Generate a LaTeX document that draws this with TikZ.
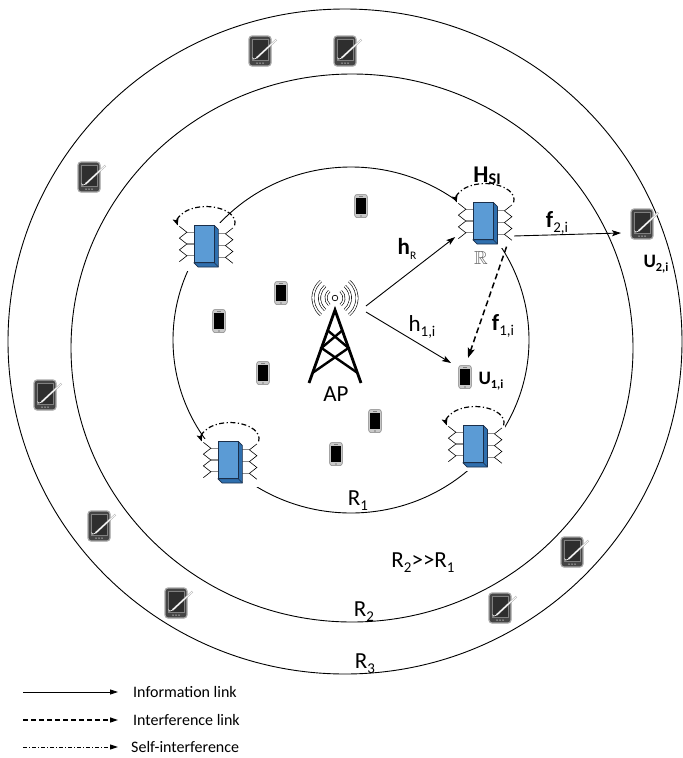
\documentclass[tikz,border=0pt]{standalone}
\usepackage{fontspec}
\setmainfont{Carlito}
\usepackage{amssymb}
\usepackage{graphicx}
\usetikzlibrary{arrows.meta,calc}

\definecolor{boxfront}{HTML}{5B9BD5}
\definecolor{boxside}{HTML}{2F6FAE}
\definecolor{boxedge}{HTML}{1B2F4A}
\definecolor{stubgray}{HTML}{8C8C8C}
\definecolor{tabbody}{HTML}{454545}
\definecolor{tabscreen}{HTML}{2E2E2E}
\definecolor{tabrim}{HTML}{A8A8A8}
\definecolor{phonebody}{HTML}{C8C8C8}
\definecolor{phoneedge}{HTML}{7F7F7F}

% lowered, scaled subscript in the running text font
\newcommand{\sbs}[2][0.65]{\raisebox{-0.22em}{\scalebox{#1}{#2}}}

\tikzset{
  ring/.style={draw=black, line width=0.9pt},
  infolink/.style={draw=black, line width=0.9pt, -{Stealth[length=9pt,width=6pt,inset=2pt]}},
  intflink/.style={draw=black, line width=1.5pt, dash pattern=on 6pt off 3.5pt, -{Stealth[length=10pt,width=7pt,inset=2pt]}},
  selfloop/.style={draw=black, line width=1.2pt, dash pattern=on 5pt off 2.5pt on 1.2pt off 2.5pt, -{Stealth[length=7pt,width=6pt,inset=1.5pt]}},
  lbl/.style={font=\fontsize{23}{23}\selectfont, inner sep=0pt},
  blbl/.style={font=\fontsize{24}{24}\selectfont\bfseries, inner sep=0pt},
  ulbl/.style={font=\fontsize{19}{19}\selectfont\bfseries, inner sep=0pt},
  legtxt/.style={font=\fontsize{16}{16}\selectfont, anchor=west, inner sep=0pt},
  legline/.style={draw=black, -{Triangle[length=8pt,width=5pt]}},
  relaysize/.style={scale=1.07},
  % full-duplex relay: box with two antenna arrays and a self-interference loop
  relay/.pic={
    \fill[white] (-24,-20) rectangle (30,25);
    \foreach \yy in {-11,0,11}{
      \draw[stubgray, line width=1.3pt] (-9.5,\yy) -- (-16,\yy);
      \draw[stubgray, line width=1.3pt] (13.5,\yy+1.5) -- (20,\yy+1.5);
    }
    \draw[line width=0.6pt, line join=miter] (-23,-16.5) -- (-16,-11) -- (-23,-5.5) -- (-16,0) -- (-23,5.5) -- (-16,11) -- (-23,16.5);
    \draw[line width=0.6pt, line join=miter] (27,-15) -- (20,-9.5) -- (27,-4) -- (20,1.5) -- (27,7) -- (20,12.5) -- (27,18);
    \filldraw[fill=boxside, draw=boxedge, line width=0.6pt, line join=round] (9.5,-17.5) -- (13.5,-13.5) -- (13.5,21.5) -- (-5.5,21.5) -- (-9.5,17.5) -- (9.5,17.5) -- cycle;
    \filldraw[fill=boxfront, draw=boxedge, line width=0.6pt] (-9.5,-17.5) rectangle (9.5,17.5);
    \draw[boxedge, line width=0.6pt] (9.5,17.5) -- (13.5,21.5);
    \draw[selfloop] (28.6,-17.4) arc[start angle=10, end angle=-190, x radius=27, y radius=15];
    \coordinate (-in) at (-26,15);
    \coordinate (-out) at (29,14);
    \coordinate (-down) at (22,24);
  },
  % small handset
  phone/.pic={
    \filldraw[fill=phonebody, draw=phoneedge, line width=0.5pt, rounded corners=2.2pt] (-6.3,-11.5) rectangle (6.3,11.5);
    \fill[black] (-4.9,-8.3) rectangle (4.9,8.3);
    \draw[phoneedge, line width=0.6pt] (-1.6,-10) -- (1.6,-10);
    \fill[phoneedge] (0,10) circle (0.9);
    \coordinate (-nw) at (-14,-14);
    \coordinate (-n) at (3,-19);
  },
  % tablet with stylus
  tablet/.pic={
    \filldraw[fill=tabbody, draw=tabrim, line width=1.2pt, rounded corners=3pt] (-11,-15) rectangle (11,15);
    \filldraw[fill=tabscreen, draw=gray, line width=0.4pt] (-8.3,-12) rectangle (8.3,9.2);
    \draw[draw=gray!65, double=white, double distance=0.9pt, line width=0.5pt] (16.5,-11.5) -- (-3.5,7);
    \draw[white, line width=0.6pt] (-3.5,7) .. controls (-5.5,9) and (-7.5,8.5) .. (-7.5,6.5);
    \foreach \xx in {-3,0,3} \fill[white!75!black] (\xx,12.2) circle (0.75);
    \coordinate (-w) at (-21,9);
  },
}

\begin{document}
\begin{tikzpicture}[x=1pt,y=-1pt]
\useasboundingbox (0,0) rectangle (683,758);
\fill[white] (0,0) rectangle (683,758);

% coverage rings
\draw[ring] (345,341.5) ellipse [x radius=337, y radius=332.5];
\draw[ring] (352,348) ellipse [x radius=281, y radius=274];
\draw[ring] (351,340) ellipse [x radius=178, y radius=173];

% relays on the inner ring
\pic[relaysize] (rTL) at (204,244) {relay};
\pic[relaysize] (rTR) at (483,221) {relay};
\pic[relaysize] (rBL) at (228,460) {relay};
\pic[relaysize] (rBR) at (473,444) {relay};

% users inside R1
\pic (p1) at (361,206) {phone};
\pic (p2) at (281,293) {phone};
\pic (p3) at (219,321) {phone};
\pic (p4) at (263,373) {phone};
\pic (p5) at (375,421) {phone};
\pic (p6) at (336,454) {phone};
\pic (u1) at (465,377) {phone};

% users in the outer rings
\pic (t1) at (260,51) {tablet};
\pic (t2) at (345,51) {tablet};
\pic (t3) at (89,177) {tablet};
\pic (t4) at (45,395) {tablet};
\pic (t5) at (99,526) {tablet};
\pic (t6) at (176,603) {tablet};
\pic (t7) at (572,552) {tablet};
\pic (t8) at (500,608) {tablet};
\pic (u2) at (642,224) {tablet};

% access point tower
\coordinate (apC) at (335,298);
\draw[line width=0.7pt] (apC) circle (2.8);
\foreach \r in {9,15.5,22}{
  \draw[line width=0.6pt, double=white, double distance=1.6pt] ($(apC)+(-50:\r)$) arc[start angle=-50, end angle=50, radius=\r];
  \draw[line width=0.6pt, double=white, double distance=1.6pt] ($(apC)+(130:\r)$) arc[start angle=130, end angle=230, radius=\r];
}
\coordinate (apT) at (335,310);
\coordinate (apL) at (309,383);
\coordinate (apR) at (361,383);
\draw[line width=2.8pt, line join=miter, miter limit=10] (apL) -- (apT) -- (apR);
\draw[line width=2.4pt] ($(apT)!0.28!(apL)$) -- ($(apT)!0.52!(apR)$) -- ($(apT)!0.86!(apL)$);
\draw[line width=2.4pt] ($(apT)!0.28!(apR)$) -- ($(apT)!0.52!(apL)$) -- ($(apT)!0.86!(apR)$);
\node[lbl] (ap) at (336,394) {AP};
\coordinate (apOutA) at ($(apC)+(31,8)$);
\coordinate (apOutB) at ($(apC)+(31,14)$);

% links
\draw[infolink] (apOutA) -- (rTR-in);
\draw[infolink] (apOutB) -- (u1-nw);
\draw[infolink] (rTR-out) -- (u2-w);
\draw[intflink] (rTR-down) -- (u1-n);

% channel and user labels
\node[blbl] (hsi) at (487,176) {H\raisebox{-0.08em}{\scalebox{0.68}{SI}}};
\node[lbl] (hR) at (407,249) {\textbf{h}\sbs[0.5]{R}};
\node[font=\fontsize{19}{19}\selectfont, text=black!60, inner sep=0pt] (rsym) at (481,258) {$\mathbb{R}$};
\node[lbl] (f2) at (557,223) {\textbf{f}\sbs{2,i}};
\node[lbl] (h1) at (422,327) {h\sbs{1,i}};
\node[lbl] (f1) at (503,326) {\textbf{f}\sbs{1,i}};
\node[ulbl] (u1lbl) at (491,381) {U\sbs{1,i}};
\node[ulbl] (u2lbl) at (656,264) {U\sbs{2,i}};

% radii
\node[lbl] (r1) at (358,501) {R\sbs{1}};
\node[lbl] (rr) at (423,563) {R\sbs{2}>\kern0pt>R\sbs{1}};
\node[lbl] (r2) at (364,612) {R\sbs{2}};
\node[lbl] (r3) at (365,664) {R\sbs{3}};

% legend
\coordinate (lgA1) at (23,692); \coordinate (lgA2) at (118,692);
\coordinate (lgB1) at (23,720); \coordinate (lgB2) at (118,720);
\coordinate (lgC1) at (23,747); \coordinate (lgC2) at (118,747);
\draw[legline, line width=0.8pt] (lgA1) -- (lgA2);
\draw[legline, line width=1.3pt, dash pattern=on 5pt off 3pt] (lgB1) -- (lgB2);
\draw[legline, line width=1pt, dash pattern=on 4pt off 2pt on 1pt off 2pt] (lgC1) -- (lgC2);
\node[legtxt] (lgA) at (133,692) {Information link};
\node[legtxt] (lgB) at (133,720) {Interference link};
\node[legtxt] (lgC) at (131,747) {Self-interference};
\end{tikzpicture}
\end{document}
